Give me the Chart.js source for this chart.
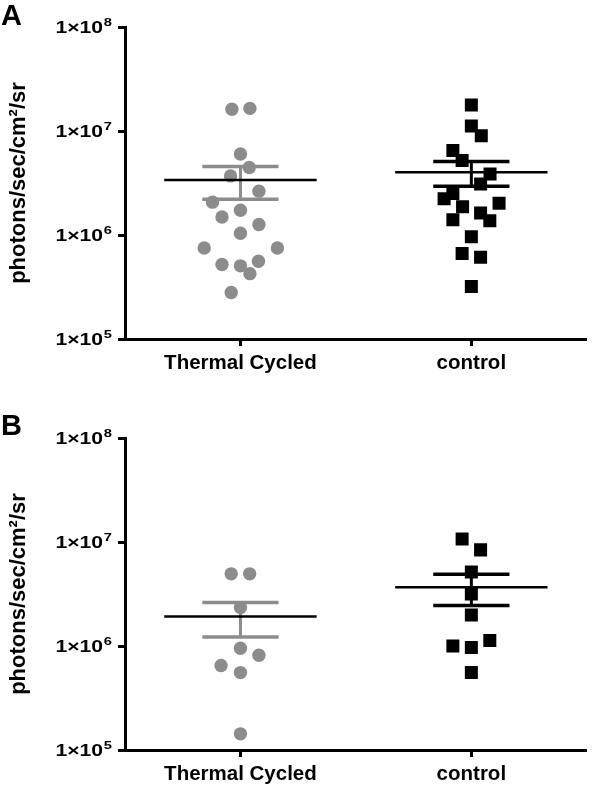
<!DOCTYPE html>
<html>
<head>
<meta charset="utf-8">
<script src="https://cdn.jsdelivr.net/npm/chart.js@4/dist/chart.umd.min.js"></script>
<style>
  html, body { margin: 0; padding: 0; background: #fff; overflow: hidden; }
  #wrap { position: relative; width: 596px; height: 788px; }
  canvas { position: absolute; left: 0; }
  #chartA { top: 0; }
  #chartB { top: 385px; }
  .panel { position: absolute; left: 1px; font: bold 29px "Liberation Sans", Arial, sans-serif; line-height: 28px; color: #000; }
</style>
</head>
<body>
<div id="wrap">
  <canvas id="chartA" width="596" height="385"></canvas>
  <canvas id="chartB" width="596" height="403"></canvas>
  <div class="panel" style="top:1px">A</div>
  <div class="panel" style="top:411px">B</div>
</div>
<script>
var groups = ['Thermal Cycled', 'control'];
var yTicks = [1e5, 1e6, 1e7, 1e8];

// panel A values (photons/sec/cm2/sr), offsets = horizontal scatter within a group
var thermalA = [1.62e7, 1.65e7, 6.0e6, 4.46e6, 3.7e6, 2.64e6, 2.07e6, 1.73e6, 1.49e6, 1.26e6, 1.04e6, 7.5e5, 7.5e5, 5.6e5, 5.2e5, 5.05e5, 4.25e5, 2.8e5];
var thermalAOffset = [-0.037, 0.041, 0, 0.038, -0.043, 0.08, -0.121, 0, -0.08, 0.08, 0, -0.157, 0.16, 0.078, -0.08, 0, 0.041, -0.04];
var controlA = [1.78e7, 1.12e7, 9.0e6, 6.5e6, 5.2e6, 3.85e6, 3.1e6, 2.5e6, 2.23e6, 2.02e6, 1.87e6, 1.4e6, 1.63e6, 1.37e6, 9.6e5, 6.65e5, 6.1e5, 3.2e5];
var controlAOffset = [0, 0, 0.043, -0.08, -0.04, 0.081, 0.04, -0.08, -0.118, 0.12, -0.038, -0.08, 0.04, 0.08, 0, -0.04, 0.04, 0];

// panel B
var thermalB = [4.94e6, 4.94e6, 2.34e6, 9.5e5, 8.15e5, 6.5e5, 5.55e5, 1.43e5];
var thermalBOffset = [-0.04, 0.04, 0, 0, 0.08, -0.084, 0, 0];
var controlB = [1.07e7, 8.4e6, 5.15e6, 3.17e6, 1.99e6, 1.13e6, 1.0e6, 9.65e5, 5.55e5];
var controlBOffset = [-0.04, 0.04, 0, 0, 0, 0.08, -0.08, 0, 0];

var GRAY = '#8c8c8c';
var FONT = '"Liberation Sans", Arial, sans-serif';

// mean line + SEM bars for each group, drawn over the points
var meanSem = {
  id: 'meanSem',
  afterDatasetsDraw: function(chart) {
    var ctx = chart.ctx, xs = chart.scales.x, ys = chart.scales.y;
    chart.data.datasets.forEach(function(ds) {
      var vals = ds.data.map(function(p) { return p.y; });
      var n = vals.length;
      var mean = vals.reduce(function(a, b) { return a + b; }, 0) / n;
      var ss = vals.reduce(function(a, b) { return a + (b - mean) * (b - mean); }, 0);
      var sem = Math.sqrt(ss / (n - 1)) / Math.sqrt(n);
      var c = ds.group;
      var yHi = ys.getPixelForValue(mean + sem), yLo = ys.getPixelForValue(mean - sem), yM = ys.getPixelForValue(mean);
      ctx.save();
      ctx.strokeStyle = ds.backgroundColor;
      ctx.lineWidth = 3;
      ctx.beginPath();
      ctx.moveTo(xs.getPixelForValue(c), yHi);
      ctx.lineTo(xs.getPixelForValue(c), yLo);
      ctx.stroke();
      ctx.lineWidth = 3.5;
      ctx.beginPath();
      ctx.moveTo(xs.getPixelForValue(c - 0.165), yHi);
      ctx.lineTo(xs.getPixelForValue(c + 0.165), yHi);
      ctx.moveTo(xs.getPixelForValue(c - 0.165), yLo);
      ctx.lineTo(xs.getPixelForValue(c + 0.165), yLo);
      ctx.stroke();
      ctx.strokeStyle = '#000';
      ctx.lineWidth = 2.5;
      ctx.beginPath();
      ctx.moveTo(xs.getPixelForValue(c - 0.33), yM);
      ctx.lineTo(xs.getPixelForValue(c + 0.33), yM);
      ctx.stroke();
      ctx.restore();
    });
  }
};

// "1x10" + raised exponent at each y tick (the original labels are wide, so stretch them a bit)
var powerLabels = {
  id: 'powerLabels',
  afterDraw: function(chart) {
    var ctx = chart.ctx, ys = chart.scales.y;
    ys.ticks.forEach(function(t) {
      var y = ys.getPixelForValue(t.value);
      var exp = String(Math.round(Math.log10(t.value)));
      ctx.save();
      ctx.translate(ys.right - 13, y);
      ctx.scale(1.28, 1);
      ctx.fillStyle = '#000';
      ctx.textAlign = 'right';
      ctx.textBaseline = 'alphabetic';
      ctx.font = 'bold 11.5px ' + FONT;
      var w = ctx.measureText(exp).width;
      ctx.fillText(exp, 0, -1.3);
      ctx.font = 'bold 16.5px ' + FONT;
      ctx.fillText('1\u00d710', -w - 0.6, 6.3);
      ctx.restore();
    });
  }
};

function points(vals, offs, c) {
  return vals.map(function(v, i) { return { x: c + offs[i], y: v }; });
}

function makePanel(id, tc, tcOff, ct, ctOff, padTop, xHeight) {
  return new Chart(document.getElementById(id), {
    type: 'scatter',
    data: {
      datasets: [{
        label: groups[0],
        group: 0,
        data: points(tc, tcOff, 0),
        pointStyle: 'circle',
        pointRadius: 6.7,
        backgroundColor: GRAY,
        borderColor: GRAY,
        borderWidth: 0
      }, {
        label: groups[1],
        group: 1,
        data: points(ct, ctOff, 1),
        pointStyle: 'rect',
        pointRadius: 9.2,
        backgroundColor: '#000',
        borderColor: '#000',
        borderWidth: 0
      }]
    },
    options: {
      responsive: false,
      animation: false,
      events: [],
      layout: { padding: { top: padTop, right: 3, left: 0, bottom: 0 } },
      plugins: { legend: { display: false }, tooltip: { enabled: false } },
      scales: {
        x: {
          type: 'linear', min: -0.5, max: 1.5,
          afterBuildTicks: function(s) { s.ticks = [{ value: 0 }, { value: 1 }]; },
          afterFit: function(s) { s.height = xHeight; },
          grid: { drawOnChartArea: false, drawTicks: true, tickLength: 7, tickWidth: 3, tickColor: '#000' },
          border: { display: true, color: '#000', width: 3 },
          ticks: {
            color: '#000', padding: 5, maxRotation: 0, autoSkip: false,
            font: { family: FONT, size: 20.5, weight: 'bold' },
            callback: function(v) { return groups[v]; }
          }
        },
        y: {
          type: 'logarithmic', min: 1e5, max: 1e8,
          afterBuildTicks: function(s) { s.ticks = yTicks.map(function(v) { return { value: v }; }); },
          afterFit: function(s) { s.width = 125; },
          grid: { drawOnChartArea: false, drawTicks: true, tickLength: 7, tickWidth: 3, tickColor: '#000' },
          border: { display: true, color: '#000', width: 3 },
          ticks: { display: false },
          title: {
            display: true, text: 'photons/sec/cm\u00b2/sr', color: '#000',
            font: { family: FONT, size: 22, weight: 'bold' },
            padding: { top: 6, bottom: 0 }
          }
        }
      }
    },
    plugins: [meanSem, powerLabels]
  });
}

makePanel('chartA', thermalA, thermalAOffset, controlA, controlAOffset, 27, 46);
makePanel('chartB', thermalB, thermalBOffset, controlB, controlBOffset, 53, 38);
</script>
</body>
</html>
